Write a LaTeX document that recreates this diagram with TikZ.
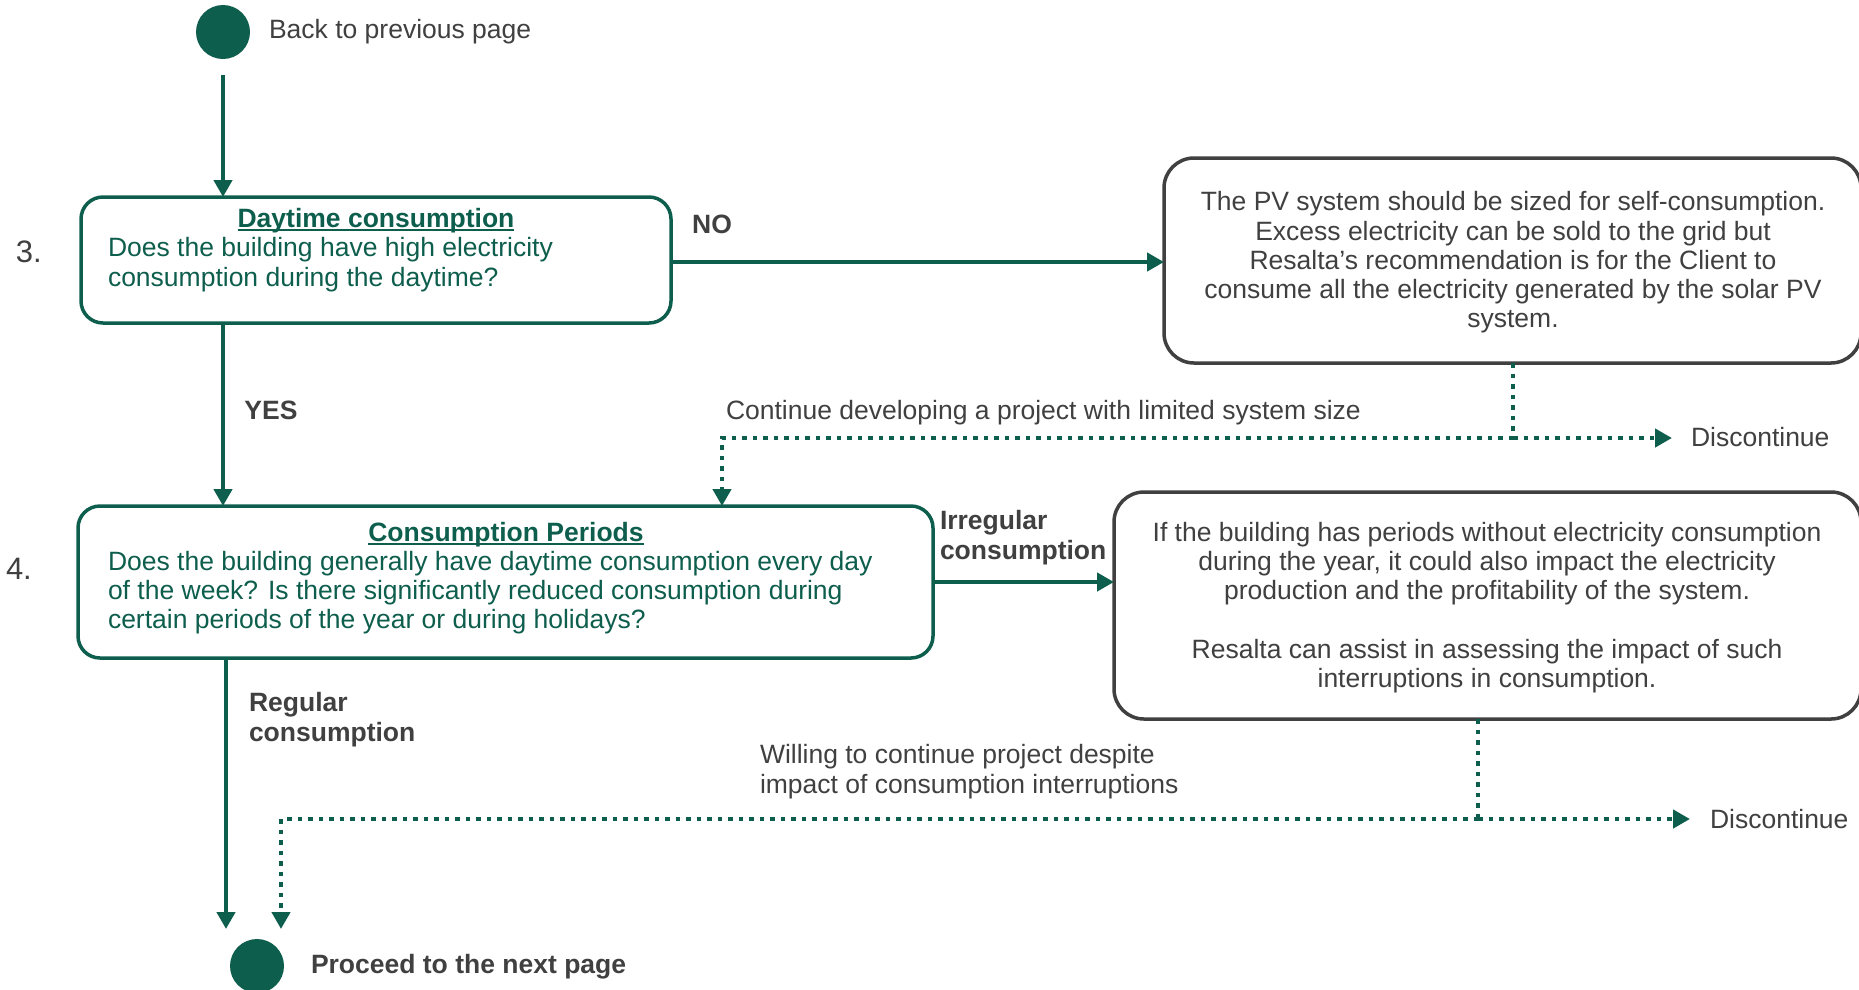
\documentclass[tikz,border=0pt]{standalone}
\usepackage{fontspec}
\setmainfont{Liberation Sans}
\usetikzlibrary{arrows.meta}
\definecolor{rgreen}{RGB}{14,94,77}
\definecolor{rgray}{RGB}{64,64,64}
% underline drawn just below the baseline, crossing descenders
\newcommand{\titleul}[1]{\setbox0\hbox{#1}\rlap{\rule[-3.5pt]{\wd0}{1.8pt}}\box0}
\begin{document}
\begin{tikzpicture}[x=1pt,y=-1pt,
  every node/.style={inner sep=0pt, outer sep=0pt},
  txt/.style={font=\fontsize{26.5}{29.3}\selectfont, text=rgray, yshift=-3.5pt},
  gtxt/.style={font=\fontsize{26.5}{29.3}\selectfont, text=rgreen, yshift=-3.5pt},
  btxt/.style={font=\fontsize{26.5}{29.3}\selectfont\bfseries, text=rgray, yshift=-3.5pt},
  numtxt/.style={font=\fontsize{31}{34}\selectfont, text=rgray},
  greenbox/.style={draw=rgreen, line width=3.5pt, rounded corners=22pt},
  graybox/.style={draw=rgray, line width=3.5pt, rounded corners=30pt},
  terminal/.style={circle, fill=rgreen, minimum size=54pt},
  arr/.style={draw=rgreen, line width=4.5pt, -{Triangle[length=17pt,width=18pt]}},
  dotline/.style={draw=rgreen, line width=4.5pt, dash pattern=on 4.5pt off 6pt},
  dotarr/.style={dotline, -{Triangle[length=17pt,width=18pt]}}
]
\fill[white] (0,0) rectangle (1859,989);
\useasboundingbox (0,0) rectangle (1859,989);
\clip (0,0) rectangle (1859,989);

% start and end terminals
\node[terminal] (start) at (223,32) {};
\node[txt, anchor=west] (backlbl) at (269,28) {Back to previous page};
\node[terminal] (finish) at (257,966) {};
\node[btxt, anchor=west] (nextlbl) at (311,963) {Proceed to the next page};

% step 3
\node[greenbox, minimum width=590pt, minimum height=126pt] (box1) at (376,260) {};
\node[numtxt, anchor=west] (num3) at (16,252) {3.};
\node[gtxt, font=\fontsize{26.5}{29.3}\selectfont\bfseries] (t1title) at (376,217) {\titleul{Daytime consumption}};
\node[gtxt, anchor=west, align=left] (t1body) at (108,261) {Does the building have high electricity\\consumption during the daytime?};

% advice for step 3
\node[graybox, minimum width=697pt, minimum height=205pt] (box2) at (1512.5,260.5) {};
\node[txt, align=center] (t2) at (1513,259) {The PV system should be sized for self-consumption.\\Excess electricity can be sold to the grid but\\Resalta’s recommendation is for the Client to\\consume all the electricity generated by the solar PV\\system.};

% step 4
\node[greenbox, minimum width=855pt, minimum height=152pt] (box3) at (505.5,582) {};
\node[numtxt, anchor=west] (num4) at (6,569) {4.};
\node[gtxt, font=\fontsize{26.5}{29.3}\selectfont\bfseries] (t3title) at (506,531) {\titleul{Consumption Periods}};
\node[gtxt, anchor=west, align=left] (t3body) at (108,589) {Does the building generally have daytime consumption every day\\of the week? Is there significantly reduced consumption during\\certain periods of the year or during holidays?};

% advice for step 4
\node[graybox, minimum width=747pt, minimum height=227pt] (box4) at (1487.5,605.5) {};
\node[txt, align=center] (t4) at (1487,604) {If the building has periods without electricity consumption\\during the year, it could also impact the electricity\\production and the profitability of the system.\\[29.3pt]Resalta can assist in assessing the impact of such\\interruptions in consumption.};

% branch labels
\node[btxt] (nolbl) at (712,221) {NO};
\node[btxt] (yeslbl) at (271,407) {YES};
\node[btxt, anchor=west, align=left] (irrlbl) at (940,534) {Irregular\\consumption};
\node[btxt, anchor=west, align=left] (reglbl) at (249,716) {Regular\\consumption};
\node[txt, anchor=west] (contlbl) at (726,409) {Continue developing a project with limited system size};
\node[txt, anchor=west, align=left] (willlbl) at (760,768) {Willing to continue project despite\\impact of consumption interruptions};
\node[txt, anchor=west] (disc1) at (1691,434) {Discontinue};
\node[txt, anchor=west] (disc2) at (1710,816) {Discontinue};

% junction points of the dotted routes
\coordinate (j1) at (1513,438);
\coordinate (k1) at (722,438);
\coordinate (j2) at (1478,819);
\coordinate (k2) at (281,819);
\coordinate (e1) at (226,929);
\coordinate (e2) at (281,929);

% solid connectors
\draw[arr, shorten <=16pt] (start.south) -- (start.south |- box1.north);
\draw[arr] (box1.east |- 0,262) -- (box2.west |- 0,262);
\draw[arr] (box1.south -| start) -- (box3.north -| start);
\draw[arr] (box3.east) -- (box4.west |- box3.east);
\draw[arr] (box3.south -| e1) -- (e1);

% dotted connectors
\draw[dotline] (box2.south -| j1) -- (j1);
\draw[dotarr, shorten >=19pt] (j1) -- (disc1.west |- j1);
\draw[dotarr] (j1) -- (k1) -- (k1 |- box3.north);
\draw[dotline] (box4.south -| j2) -- (j2);
\draw[dotarr, shorten >=20pt] (j2) -- (disc2.west |- j2);
\draw[dotarr] (j2) -- (k2) -- (e2);
\end{tikzpicture}
\end{document}
